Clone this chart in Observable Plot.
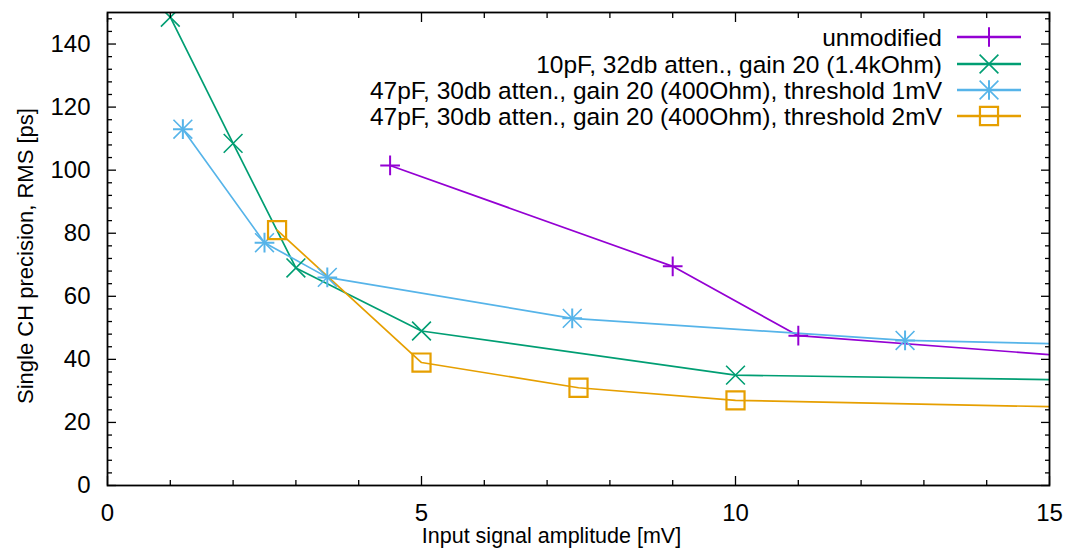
<!DOCTYPE html>
<html>
<head>
<meta charset="utf-8">
<script src="https://cdn.jsdelivr.net/npm/d3@7"></script>
<script src="https://cdn.jsdelivr.net/npm/@observablehq/plot@0.6"></script>
<style>
  html, body { margin: 0; padding: 0; background: #fff; }
  #wrap { position: relative; width: 1069px; height: 549px; font-family: "Liberation Sans", Arial, sans-serif; }
  #wrap svg { position: absolute; left: 0; top: 0; }
</style>
</head>
<body>
<div id="wrap"></div>
<script>
// ---- data ----
const seriesNames = [
  "unmodified",
  "10pF, 32db atten., gain 20 (1.4kOhm)",
  "47pF, 30db atten., gain 20 (400Ohm), threshold 1mV",
  "47pF, 30db atten., gain 20 (400Ohm), threshold 2mV"
];
const seriesColors = ["#9400d3", "#009e73", "#56b4e9", "#e69f00"];
const seriesSymbols = [["plus"], ["times"], ["plus", "times"], ["square"]];

// measured points (with marker)
const unmodX = [4.5, 9, 11];
const unmodY = [101.5, 69.5, 47.5];
const c10pfX = [1, 2, 3, 5, 10];
const c10pfY = [148.5, 108.5, 69, 49, 35];
const th1X = [1.2, 2.5, 3.5, 7.4, 12.7];
const th1Y = [113, 77, 66, 53, 46];
const th2X = [2.7, 5, 7.5, 10];
const th2Y = [81, 39, 31, 27];
// value where each line leaves the plot at its right edge (x = 15); line continues beyond
const edgeX = 15;
const edgeY = [41.5, 33.6, 45, 25];

const xMajor = [0, 5, 10, 15];
const xMinor = [1, 2, 3, 4, 6, 7, 8, 9, 11, 12, 13, 14];
const yMajor = [0, 20, 40, 60, 80, 100, 120, 140];
const yMinor = [4, 8, 12, 16, 24, 28, 32, 36, 44, 48, 52, 56, 64, 68, 72, 76, 84, 88, 92, 96,
                104, 108, 112, 116, 124, 128, 132, 136, 144, 148];

const xTitle = "Input signal amplitude [mV]";
const yTitle = "Single CH precision, RMS [ps]";

// ---- build tables ----
const xsAll = [unmodX, c10pfX, th1X, th2X];
const ysAll = [unmodY, c10pfY, th1Y, th2Y];
const points = [];
const lines = [];
xsAll.forEach((xs, s) => {
  xs.forEach((x, i) => {
    points.push({s, x, y: ysAll[s][i]});
    lines.push({s, x, y: ysAll[s][i]});
  });
  lines.push({s, x: edgeX, y: edgeY[s]});
});

const symbolR = {plus: 6.4, times: 8.6, square: 10.2};
const symbolW = {plus: 2, times: 1.6, square: 2.2};

const marks = [];
// lines
for (let s = 0; s < 4; s++) {
  marks.push(Plot.line(lines.filter(d => d.s === s), {
    x: "x", y: "y", stroke: seriesColors[s], strokeWidth: 1.7, clip: true
  }));
}
// markers
for (let s = 0; s < 4; s++) {
  for (const sym of seriesSymbols[s]) {
    marks.push(Plot.dot(points.filter(d => d.s === s), {
      x: "x", y: "y", symbol: () => sym, r: symbolR[sym],
      stroke: seriesColors[s], fill: "none", strokeWidth: symbolW[sym], clip: true
    }));
  }
}
// axes (gnuplot style: inward ticks on all four sides)
const axFont = 24;
marks.push(
  Plot.axisX({ticks: xMajor, tickSize: -9, tickPadding: 27, fontSize: axFont, label: null, tickFormat: d => String(d), anchor: "bottom", strokeWidth: 1.3, color: "#000"}),
  Plot.axisX({ticks: xMinor, tickSize: -5, text: null, label: null, anchor: "bottom", strokeWidth: 1.3}),
  Plot.axisX({ticks: xMajor, tickSize: -9, text: null, label: null, anchor: "top", strokeWidth: 1.3}),
  Plot.axisX({ticks: xMinor, tickSize: -5, text: null, label: null, anchor: "top", strokeWidth: 1.3}),
  Plot.axisY({ticks: yMajor, tickSize: -9, tickPadding: 26, fontSize: axFont, label: null, tickFormat: d => String(d), anchor: "left", strokeWidth: 1.3, color: "#000"}),
  Plot.axisY({ticks: yMinor, tickSize: -5, text: null, label: null, anchor: "left", strokeWidth: 1.3}),
  Plot.axisY({ticks: yMajor, tickSize: -9, text: null, label: null, anchor: "right", strokeWidth: 1.3}),
  Plot.axisY({ticks: yMinor, tickSize: -5, text: null, label: null, anchor: "right", strokeWidth: 1.3}),
  Plot.frame({stroke: "#000", strokeWidth: 1.8}),
  Plot.text([xTitle], {text: d => d, frameAnchor: "bottom", textAnchor: "middle", dx: -27, dy: 51, fontSize: 21.5, lineAnchor: "middle", fill: "#000"}),
  Plot.text([yTitle], {text: d => d, frameAnchor: "left", textAnchor: "middle", rotate: -90, dx: -82, dy: 7, fontSize: 22, lineAnchor: "middle", fill: "#000"})
);

const chart = Plot.plot({
  width: 1069,
  height: 549,
  marginLeft: 107,
  marginRight: 20,
  marginTop: 12,
  marginBottom: 64,
  style: {fontFamily: "'Liberation Sans', Arial, sans-serif", color: "#000", background: "#fff", overflow: "visible"},
  x: {domain: [0, 15], axis: null},
  y: {domain: [0, 150], axis: null},
  marks
});
document.getElementById("wrap").appendChild(chart);

// ---- legend overlay (inside plot, top right) ----
const legend = d3.select("#wrap").append("svg")
  .attr("width", 1069).attr("height", 549)
  .style("pointer-events", "none");
const rowY = [37, 64, 90, 116];
seriesNames.forEach((name, s) => {
  const g = legend.append("g").attr("transform", `translate(0,${rowY[s]})`);
  g.append("text").attr("x", 942).attr("y", 0).attr("dy", "0.36em")
    .attr("text-anchor", "end").attr("font-size", 24.5)
    .attr("font-family", "'Liberation Sans', Arial, sans-serif")
    .attr("fill", "#000").text(name);
  g.append("line").attr("x1", 957).attr("x2", 1021).attr("y1", 0).attr("y2", 0)
    .attr("stroke", seriesColors[s]).attr("stroke-width", 2.6);
  for (const sym of seriesSymbols[s]) {
    const type = {plus: d3.symbolPlus, times: d3.symbolTimes, square: d3.symbolSquare}[sym];
    g.append("path").attr("transform", "translate(989,0)")
      .attr("d", d3.symbol(type, Math.PI * symbolR[sym] * symbolR[sym])())
      .attr("fill", "none").attr("stroke", seriesColors[s]).attr("stroke-width", symbolW[sym]);
  }
});
</script>
</body>
</html>
